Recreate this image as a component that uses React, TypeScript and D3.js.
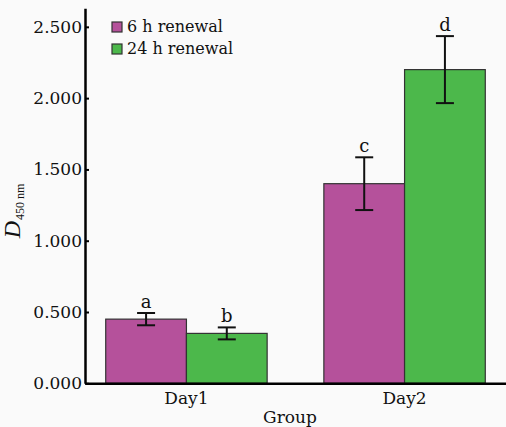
import React, { useEffect, useRef } from 'react';
import * as d3 from 'd3';

const groups = ['Day1', 'Day2'];
const seriesNames = ['6 h renewal', '24 h renewal'];
const seriesColors = ['#b5519b', '#4cb84b'];
const means6h = [0.45, 1.40];
const means24h = [0.35, 2.20];
const errors6h = [0.043, 0.185];
const errors24h = [0.042, 0.235];
const letters6h = ['a', 'c'];
const letters24h = ['b', 'd'];
const yTicks = [0, 0.5, 1.0, 1.5, 2.0, 2.5];

const WIDTH = 506;
const HEIGHT = 427;
const FONT = '"DejaVu Serif", serif';

const App: React.FC = () => {
  const svgRef = useRef<SVGSVGElement>(null);

  useEffect(() => {
    const svg = d3.select(svgRef.current);
    svg.selectAll('*').remove();

    const left = 85;
    const right = 506;
    const bottom = 383.3;

    svg.append('rect')
      .attr('width', WIDTH)
      .attr('height', HEIGHT)
      .attr('fill', '#fafafa');

    const x = d3.scaleBand()
      .domain(groups)
      .range([left, right])
      .paddingInner(0.26)
      .paddingOuter(0.095);

    const xSub = d3.scaleBand()
      .domain(seriesNames)
      .range([0, x.bandwidth()])
      .padding(0);

    const y = d3.scaleLinear()
      .domain([0, 2.63])
      .range([bottom, 8.3]);

    // rows: one per bar
    const rows = groups.flatMap((g, i) => [
      { group: g, series: seriesNames[0], value: means6h[i], err: errors6h[i], letter: letters6h[i], color: seriesColors[0] },
      { group: g, series: seriesNames[1], value: means24h[i], err: errors24h[i], letter: letters24h[i], color: seriesColors[1] },
    ]);

    // bars
    svg.selectAll('.bar')
      .data(rows)
      .enter()
      .append('rect')
      .attr('class', 'bar')
      .attr('x', d => (x(d.group) as number) + (xSub(d.series) as number))
      .attr('y', d => y(d.value))
      .attr('width', xSub.bandwidth())
      .attr('height', d => y(0) - y(d.value))
      .attr('fill', d => d.color)
      .attr('stroke', '#333')
      .attr('stroke-width', 1.2);

    // error bars
    const cx = (d: any) => (x(d.group) as number) + (xSub(d.series) as number) + xSub.bandwidth() / 2;
    const capHalf = 9;
    const eb = svg.selectAll('.err')
      .data(rows)
      .enter()
      .append('g')
      .attr('class', 'err')
      .attr('stroke', '#111')
      .attr('stroke-width', 2);
    eb.append('line')
      .attr('x1', cx).attr('x2', cx)
      .attr('y1', d => y(d.value + d.err))
      .attr('y2', d => y(d.value - d.err));
    eb.append('line')
      .attr('x1', d => cx(d) - capHalf).attr('x2', d => cx(d) + capHalf)
      .attr('y1', d => y(d.value + d.err))
      .attr('y2', d => y(d.value + d.err));
    eb.append('line')
      .attr('x1', d => cx(d) - capHalf).attr('x2', d => cx(d) + capHalf)
      .attr('y1', d => y(d.value - d.err))
      .attr('y2', d => y(d.value - d.err));

    // significance letters
    svg.selectAll('.letter')
      .data(rows)
      .enter()
      .append('text')
      .attr('class', 'letter')
      .attr('x', cx)
      .attr('y', d => y(d.value + d.err) - 5)
      .attr('text-anchor', 'middle')
      .attr('font-family', FONT)
      .attr('font-size', '18px')
      .attr('fill', '#111')
      .text(d => d.letter);

    // y axis
    const yAxis = svg.append('g')
      .attr('transform', `translate(${left},0)`)
      .call(d3.axisRight(y).tickValues(yTicks).tickSize(4).tickSizeOuter(0).tickFormat(d3.format('.3f')));
    yAxis.select('.domain').attr('stroke', '#000').attr('stroke-width', 2.5);
    yAxis.selectAll('.tick line').attr('stroke', '#000').attr('stroke-width', 2);
    yAxis.selectAll('.tick text')
      .attr('x', -3)
      .attr('text-anchor', 'end')
      .attr('font-family', FONT)
      .attr('font-size', '17px')
      .attr('fill', '#111');

    // x axis
    const xAxis = svg.append('g')
      .attr('transform', `translate(0,${bottom})`)
      .call(d3.axisBottom(x).tickSize(0).tickSizeOuter(0).tickPadding(9));
    xAxis.select('.domain').attr('stroke', '#000').attr('stroke-width', 2.5);
    xAxis.selectAll('.tick text')
      .attr('font-family', FONT)
      .attr('font-size', '17px')
      .attr('fill', '#111');

    // axis titles
    svg.append('text')
      .attr('x', 290)
      .attr('y', 423)
      .attr('text-anchor', 'middle')
      .attr('font-family', FONT)
      .attr('font-size', '17px')
      .attr('fill', '#111')
      .text('Group');

    const yTitle = svg.append('text')
      .attr('transform', 'translate(20,211) rotate(-90)')
      .attr('text-anchor', 'middle')
      .attr('font-family', '"Liberation Serif", serif')
      .attr('fill', '#111');
    yTitle.append('tspan')
      .attr('font-size', '24px')
      .attr('font-style', 'italic')
      .text('D');
    yTitle.append('tspan')
      .attr('font-size', '12px')
      .attr('dx', 1)
      .attr('dy', 4)
      .text('450 nm');

    // legend
    const legend = svg.append('g')
      .attr('transform', 'translate(112,20)');
    seriesNames.forEach((name, i) => {
      const row = legend.append('g').attr('transform', `translate(0,${i * 22})`);
      row.append('rect')
        .attr('y', 2)
        .attr('width', 10)
        .attr('height', 10)
        .attr('fill', seriesColors[i])
        .attr('stroke', '#333')
        .attr('stroke-width', 1.2);
      row.append('text')
        .attr('x', 15)
        .attr('y', 12)
        .attr('font-family', FONT)
        .attr('font-size', '16px')
        .attr('fill', '#111')
        .text(name);
    });
  }, []);

  return (
    <svg
      ref={svgRef}
      width={WIDTH}
      height={HEIGHT}
      style={{ position: 'absolute', left: 0, top: 0 }}
    />
  );
};

export default App;
